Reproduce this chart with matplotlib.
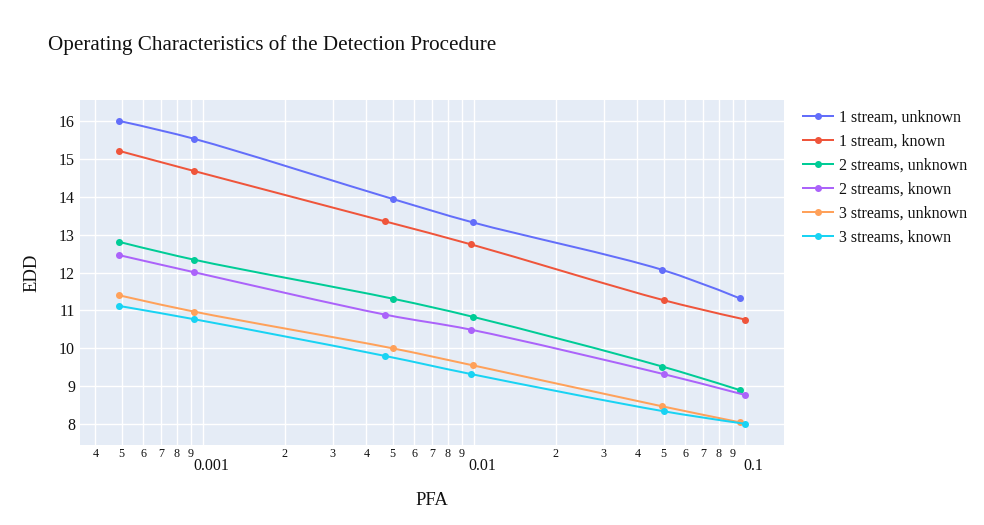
import numpy as np
import matplotlib
matplotlib.use("Agg")
import matplotlib.pyplot as plt
from matplotlib.path import Path
from matplotlib.patches import PathPatch
from matplotlib.lines import Line2D
from matplotlib.ticker import FixedLocator, FixedFormatter
from matplotlib.transforms import ScaledTranslation

plt.rcParams['font.family'] = ['Liberation Serif', 'DejaVu Serif']

# PFA values (unknown / known parameter runs land at slightly different PFA)
pfa_unknown = [4.88e-4, 9.22e-4, 0.00500, 0.00990, 0.0494, 0.0953]
pfa_known = [4.88e-4, 9.22e-4, 0.00468, 0.00975, 0.0500, 0.0998]

edd_1_unknown = [16.00, 15.53, 13.94, 13.32, 12.07, 11.32]
edd_1_known = [15.21, 14.68, 13.35, 12.74, 11.27, 10.76]
edd_2_unknown = [12.81, 12.34, 11.31, 10.83, 9.52, 8.90]
edd_2_known = [12.46, 12.01, 10.89, 10.49, 9.32, 8.77]
edd_3_unknown = [11.40, 10.97, 10.00, 9.55, 8.47, 8.05]
edd_3_known = [11.12, 10.77, 9.80, 9.32, 8.34, 8.01]

series_names = ["1 stream, unknown", "1 stream, known",
                "2 streams, unknown", "2 streams, known",
                "3 streams, unknown", "3 streams, known"]
series_x = [pfa_unknown, pfa_known, pfa_unknown, pfa_known, pfa_unknown, pfa_known]
series_y = [edd_1_unknown, edd_1_known, edd_2_unknown, edd_2_known,
            edd_3_unknown, edd_3_known]
colors = ["#636EFA", "#EF553B", "#00CC96", "#AB63FA", "#FFA15A", "#19D3F3"]

y_ticks = [8, 9, 10, 11, 12, 13, 14, 15, 16]
decades = [0.001, 0.01, 0.1]
decade_labels = ["0.001", "0.01", "0.1"]
digits = [4, 5, 6, 7, 8, 9, 2, 3, 4, 5, 6, 7, 8, 9, 2, 3, 4, 5, 6, 7, 8, 9]
digit_decade = [1e-4] * 6 + [1e-3] * 8 + [1e-2] * 8

xlim = (3.51e-4, 0.139)
ylim = (7.45, 16.55)

PX = 0.72  # points per pixel at dpi 100
TEXT = "#111111"

fig = plt.figure(figsize=(9.84, 5.25), dpi=100)
ax = fig.add_axes([80 / 984, 80 / 525, 704 / 984, 345 / 525])
ax.set_facecolor("#E5ECF6")
for s in ax.spines.values():
    s.set_visible(False)
ax.set_xscale("log")
ax.set_xlim(*xlim)
ax.set_ylim(*ylim)


def spline_path(xs, ys, sx, sy, smoothness=1.0):
    # plotly-style spline, computed in pixel-like space
    pts = np.column_stack([np.log10(xs) * sx, np.asarray(ys) * sy])
    tangents = []
    for i in range(1, len(pts) - 1):
        p0, p1, p2 = pts[i - 1], pts[i], pts[i + 1]
        d1 = p0 - p1
        d2 = p2 - p1
        d1a = np.hypot(*d1) ** 0.5
        d2a = np.hypot(*d2) ** 0.5
        num = (d2a * d2a * d1 - d1a * d1a * d2) * smoothness
        den1 = 3 * d2a * (d1a + d2a)
        den2 = 3 * d1a * (d1a + d2a)
        tangents.append((p1 + num / den1, p1 - num / den2))
    verts = [pts[0], tangents[0][0], pts[1]]
    codes = [Path.MOVETO, Path.CURVE3, Path.CURVE3]
    for i in range(2, len(pts) - 1):
        verts += [tangents[i - 2][1], tangents[i - 1][0], pts[i]]
        codes += [Path.CURVE4] * 3
    verts += [tangents[-1][1], pts[-1]]
    codes += [Path.CURVE3] * 2
    verts = np.array(verts)
    verts = np.column_stack([10 ** (verts[:, 0] / sx), verts[:, 1] / sy])
    return Path(verts, codes)


ax_w_px = 704
ax_h_px = 345
sx = ax_w_px / (np.log10(xlim[1]) - np.log10(xlim[0]))
sy = ax_h_px / (ylim[1] - ylim[0])

handles = []
for k, (xs, ys, c, name) in enumerate(zip(series_x, series_y, colors, series_names)):
    ax.add_patch(PathPatch(spline_path(xs, ys, sx, sy), facecolor="none",
                           edgecolor=c, lw=2 * PX, zorder=3 + 2 * k,
                           capstyle="round", joinstyle="round"))
    ax.plot(xs, ys, linestyle="none", marker="o", ms=7 * PX, color=c,
            markeredgewidth=0, zorder=4 + 2 * k)
    handles.append(Line2D([], [], color=c, lw=2 * PX, marker="o",
                          ms=7 * PX, markeredgewidth=0, label=name))

# x ticks: small digits as major ticks, decade values as minor ticks
digit_pos = [d * b for d, b in zip(digits, digit_decade)]
ax.xaxis.set_major_locator(FixedLocator(digit_pos))
ax.xaxis.set_major_formatter(FixedFormatter([str(d) for d in digits]))
ax.xaxis.set_minor_locator(FixedLocator(decades))
ax.xaxis.set_minor_formatter(FixedFormatter(decade_labels))
ax.tick_params(axis="x", which="major", length=0, pad=3 * PX,
               labelsize=12 * PX, labelcolor=TEXT)
ax.tick_params(axis="x", which="minor", length=0, pad=13 * PX,
               labelsize=16 * PX, labelcolor=TEXT)
shift = ScaledTranslation(8 / 100, 0, fig.dpi_scale_trans)
for lbl in ax.xaxis.get_minorticklabels():
    lbl.set_transform(lbl.get_transform() + shift)

ax.set_yticks(y_ticks)
ax.tick_params(axis="y", length=0, pad=5 * PX, labelsize=16 * PX,
               labelcolor=TEXT)

ax.grid(True, which="both", color="white", lw=1.4 * PX, zorder=0)
ax.set_axisbelow(True)

ax.set_xlabel("PFA", fontsize=18.7 * PX, color=TEXT, labelpad=18 * PX)
ax.set_ylabel("EDD", fontsize=18.7 * PX, color=TEXT, labelpad=19 * PX)

fig.text(48 / 984, 1 - 50 / 525,
         "Operating Characteristics of the Detection Procedure",
         fontsize=21.2 * PX, color=TEXT, ha="left", va="baseline")

fig.legend(handles=handles, loc="upper left",
           bbox_to_anchor=(803 / 984, 1 - 110 / 525), frameon=False,
           fontsize=16 * PX, borderpad=0, borderaxespad=0,
           handlelength=1.9, handletextpad=0.35, labelspacing=0.5,
           labelcolor=TEXT)

fig.savefig("out.png", dpi=100)
